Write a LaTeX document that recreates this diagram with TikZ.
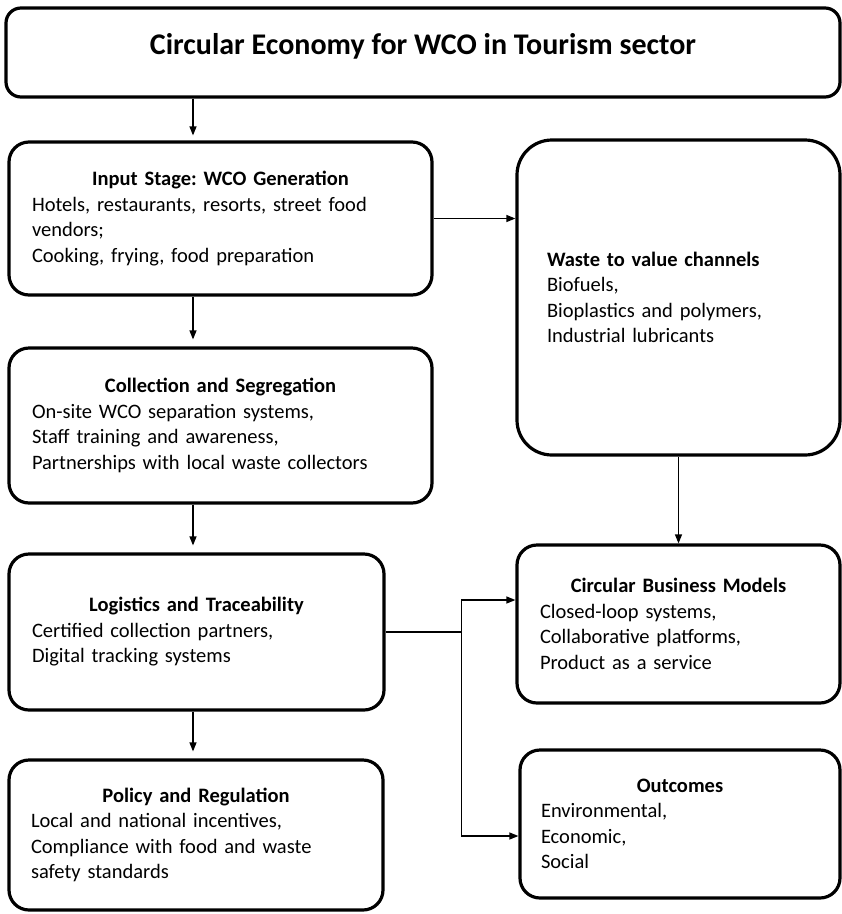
\documentclass[tikz,border=0pt]{standalone}
\usepackage{fontspec}
\setmainfont{Carlito}
\usepackage{tikz}
\usetikzlibrary{arrows.meta, positioning, calc}

\tikzset{
  stage/.style={draw=black, line width=3.2pt, rounded corners=20pt, fill=white,
    align=left, inner sep=0pt, font=\fontsize{20.5}{25.5}\selectfont\frenchspacing},
  flow/.style={-{Triangle[length=9pt, width=7pt]}, line width=1.2pt},
}
\newcommand{\stagetext}[2]{{\centering\bfseries #1\par}#2}

\begin{document}
\begin{tikzpicture}[x=1pt, y=-1pt]
    \useasboundingbox (0,0) rectangle (842,914);
    \node[stage, rounded corners=15pt, align=center, minimum width=834pt, minimum height=89pt,
      font=\fontsize{30}{34}\bfseries\selectfont, text height=21pt, text depth=17pt]
      (title) at (423,52.5) {Circular Economy for WCO in Tourism sector};
    \node[stage, minimum width=423pt, minimum height=153pt, text width=377pt]
      (input) at (220.5,218.5) {\stagetext{Input Stage: WCO Generation}{Hotels, restaurants, resorts, street food\\ vendors;\\ Cooking, frying, food preparation}};
    \node[stage, minimum width=423pt, minimum height=155pt, text width=377pt]
      (collect) at (220.5,425.5) {\stagetext{Collection and Segregation}{On-site WCO separation systems,\\ Staff training and awareness,\\ Partnerships with local waste collectors}};
    \node[stage, minimum width=375pt, minimum height=156pt, text width=329pt]
      (logistics) at (196.5,632) {\stagetext{Logistics and Traceability}{Certified collection partners,\\ Digital tracking systems}};
    \node[stage, minimum width=374pt, minimum height=150pt, text width=330pt]
      (policy) at (196,835) {\stagetext{Policy and Regulation}{Local and national incentives,\\ Compliance with food and waste\\ safety standards}};
    \node[stage, rounded corners=35pt, minimum width=323pt, minimum height=315pt, text width=263pt]
      (waste) at (678.5,297.5) {\textbf{Waste to value channels}\\ Biofuels,\\ Bioplastics and polymers,\\ Industrial lubricants};
    \node[stage, minimum width=323pt, minimum height=158pt, text width=277pt]
      (business) at (678.5,624) {\stagetext{Circular Business Models}{Closed-loop systems,\\ Collaborative platforms,\\ Product as a service}};
    \node[stage, minimum width=320pt, minimum height=148pt, text width=278pt]
      (outcomes) at (680,824) {\stagetext{Outcomes}{Environmental,\\ Economic,\\ Social}};

    \coordinate (spine) at (193,0);
    \coordinate (split) at ([xshift=76pt]logistics.east);
    \draw[flow, shorten >=5pt] (title.south -| spine) -- (input.north -| spine);
    \draw[flow, shorten >=7pt] (input.south -| spine) -- (collect.north -| spine);
    \draw[flow, shorten >=7pt] (collect.south -| spine) -- (logistics.north -| spine);
    \draw[flow, shorten >=7pt] (logistics.south -| spine) -- (policy.north -| spine);
    \draw[flow] (input.east) -- (input.east -| waste.west);
    \draw[flow] (waste.south) -- (business.north);
    \draw[line width=1.2pt] (logistics.east) -- (split);
    \draw[flow] (split) |- ([yshift=24pt]business.west);
    \draw[flow] (split) |- ([yshift=-12pt]outcomes.west);
  \end{tikzpicture}
\end{document}
